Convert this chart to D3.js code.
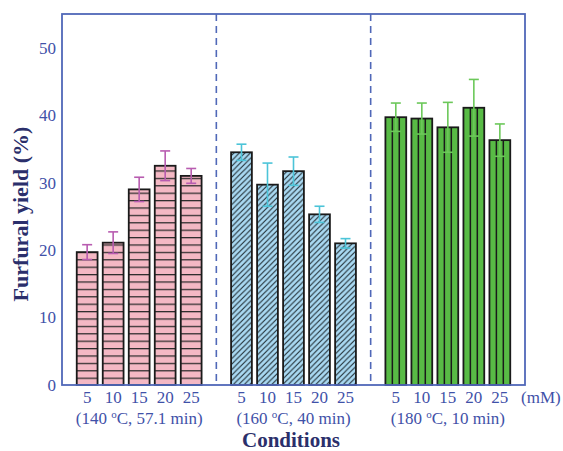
<!DOCTYPE html>
<html><head><meta charset="utf-8">
<script src="https://cdn.jsdelivr.net/npm/d3@7"></script>
<style>body{margin:0;background:#fff}svg{display:block}</style>
</head><body>
<svg id="c" width="563" height="451"></svg>
<script>
const groups = ["(140 °C, 57.1 min)", "(160 °C, 40 min)", "(180 °C, 10 min)"];
const concentrations = ["5", "10", "15", "20", "25"];
const yields140 = [19.7, 21.1, 29.0, 32.5, 31.0];
const errors140 = [1.1, 1.6, 1.8, 2.2, 1.1];
const yields160 = [34.5, 29.7, 31.7, 25.3, 21.0];
const errors160 = [1.2, 3.2, 2.1, 1.2, 0.7];
const yields180 = [39.7, 39.5, 38.2, 41.1, 36.3];
const errors180 = [2.1, 2.3, 3.7, 4.2, 2.4];
const yTicks = [0, 10, 20, 30, 40, 50];

const series = [
  {group: groups[0], values: yields140, errors: errors140, fill: "#f4b8c4", err: "#b85cb0", pat: "url(#hpat)"},
  {group: groups[1], values: yields160, errors: errors160, fill: "#a9d9f2", err: "#4cc4d8", pat: "url(#dpat)"},
  {group: groups[2], values: yields180, errors: errors180, fill: "#58bb45", err: "#6cc85a", pat: null}
];

const svg = d3.select("#c");
const L = 62, R = 525, T = 14, B = 385;
const axisCol = "#5068b8", textCol = "#3f51a8", titleCol = "#2b2f6b";
const serif = "'Liberation Serif', 'Times New Roman', serif";

const y = d3.scaleLinear().domain([0, 55]).range([B, T]);
const x0 = d3.scaleBand().domain(groups).range([L, R]).padding(0);
const x1 = d3.scaleBand().domain(concentrations).range([0, x0.bandwidth()]).paddingInner(0.2).paddingOuter(0.567);

const defs = svg.append("defs");
const hp = defs.append("pattern").attr("id", "hpat").attr("patternUnits", "userSpaceOnUse")
  .attr("width", 10).attr("height", 7.4).attr("y", B);
hp.append("rect").attr("width", 10).attr("height", 7.4).attr("fill", "#f4b8c4");
hp.append("line").attr("x1", 0).attr("x2", 10).attr("y1", 0.6).attr("y2", 0.6).attr("stroke", "#2a2a2a").attr("stroke-width", 1.3);
const dp = defs.append("pattern").attr("id", "dpat").attr("patternUnits", "userSpaceOnUse")
  .attr("width", 5.5).attr("height", 5.5);
dp.append("rect").attr("width", 5.5).attr("height", 5.5).attr("fill", "#a9d9f2");
dp.append("path").attr("d", "M-1,6.5 L6.5,-1 M-1,1 L1,-1 M4.5,6.5 L6.5,4.5").attr("stroke", "#1e2a30").attr("stroke-width", 1.1);

// dashed separators
const seps = [groups[1], groups[2]].map(g => x0(g));
svg.selectAll("line.sep").data(seps).join("line")
  .attr("x1", d => d).attr("x2", d => d).attr("y1", T).attr("y2", B)
  .attr("stroke", axisCol).attr("stroke-width", 1.6).attr("stroke-dasharray", "7,5");

// bars
series.forEach(s => {
  const g = svg.append("g").attr("transform", `translate(${x0(s.group)},0)`);
  const data = concentrations.map((c, i) => ({c, v: s.values[i], e: s.errors[i]}));
  g.selectAll("rect.bar").data(data).join("rect")
    .attr("x", d => x1(d.c)).attr("y", d => y(d.v))
    .attr("width", x1.bandwidth()).attr("height", d => y(0) - y(d.v))
    .attr("fill", s.pat || s.fill).attr("stroke", "#1a1a1a").attr("stroke-width", 1.8);
  if (!s.pat) {
    [1/3, 2/3].forEach(f => {
      g.selectAll(null).data(data).join("line")
        .attr("x1", d => x1(d.c) + x1.bandwidth() * f).attr("x2", d => x1(d.c) + x1.bandwidth() * f)
        .attr("y1", d => y(d.v)).attr("y2", y(0))
        .attr("stroke", "#1a1a1a").attr("stroke-width", 1.5);
    });
  }
  const cx = d => x1(d.c) + x1.bandwidth() / 2;
  const cap = 5;
  g.selectAll(null).data(data).join("line")
    .attr("x1", cx).attr("x2", cx).attr("y1", d => y(d.v + d.e)).attr("y2", d => y(d.v - d.e))
    .attr("stroke", s.err).attr("stroke-width", 1.6);
  g.selectAll(null).data(data).join("line")
    .attr("x1", d => cx(d) - cap).attr("x2", d => cx(d) + cap).attr("y1", d => y(d.v + d.e)).attr("y2", d => y(d.v + d.e))
    .attr("stroke", s.err).attr("stroke-width", 1.6);
  g.selectAll(null).data(data).join("line")
    .attr("x1", d => cx(d) - cap).attr("x2", d => cx(d) + cap).attr("y1", d => y(d.v - d.e)).attr("y2", d => y(d.v - d.e))
    .attr("stroke", s.err).attr("stroke-width", 1.6);
  // concentration labels
  g.selectAll("text.conc").data(concentrations).join("text")
    .attr("x", d => x1(d) + x1.bandwidth() / 2).attr("y", 403)
    .attr("text-anchor", "middle").attr("fill", textCol)
    .attr("font-family", serif).attr("font-size", 17).text(d => d);
  // group label
  const gl = g.append("text").attr("x", x0.bandwidth() / 2).attr("y", 424)
    .attr("text-anchor", "middle").attr("fill", textCol)
    .attr("font-family", serif).attr("font-size", 17);
  const parts = s.group.split("°");
  gl.append("tspan").text(parts[0].trimEnd() + " ");
  gl.append("tspan").attr("dy", -6).attr("font-size", 11).text("o");
  gl.append("tspan").attr("dy", 6).text(parts[1]);
});

// y axis labels
const ya = svg.append("g").attr("transform", `translate(${L},0)`)
  .call(d3.axisLeft(y).tickValues(yTicks).tickSize(0).tickPadding(6));
ya.select(".domain").remove();
ya.selectAll("text").attr("fill", textCol).attr("font-family", serif).attr("font-size", 17);

// frame
svg.append("rect").attr("x", L).attr("y", T).attr("width", R - L).attr("height", B - T)
  .attr("fill", "none").attr("stroke", axisCol).attr("stroke-width", 1.8);

svg.append("text").attr("x", 521).attr("y", 403).attr("fill", textCol)
  .attr("font-family", serif).attr("font-size", 17).text("(mM)");

svg.append("text").attr("x", 291).attr("y", 447).attr("text-anchor", "middle")
  .attr("fill", titleCol).attr("font-family", serif).attr("font-weight", "bold").attr("font-size", 21)
  .text("Conditions");

svg.append("text").attr("transform", "translate(28,214) rotate(-90)").attr("text-anchor", "middle")
  .attr("fill", titleCol).attr("font-family", serif).attr("font-weight", "bold").attr("font-size", 22)
  .text("Furfural yield (%)");
</script>
</body></html>
